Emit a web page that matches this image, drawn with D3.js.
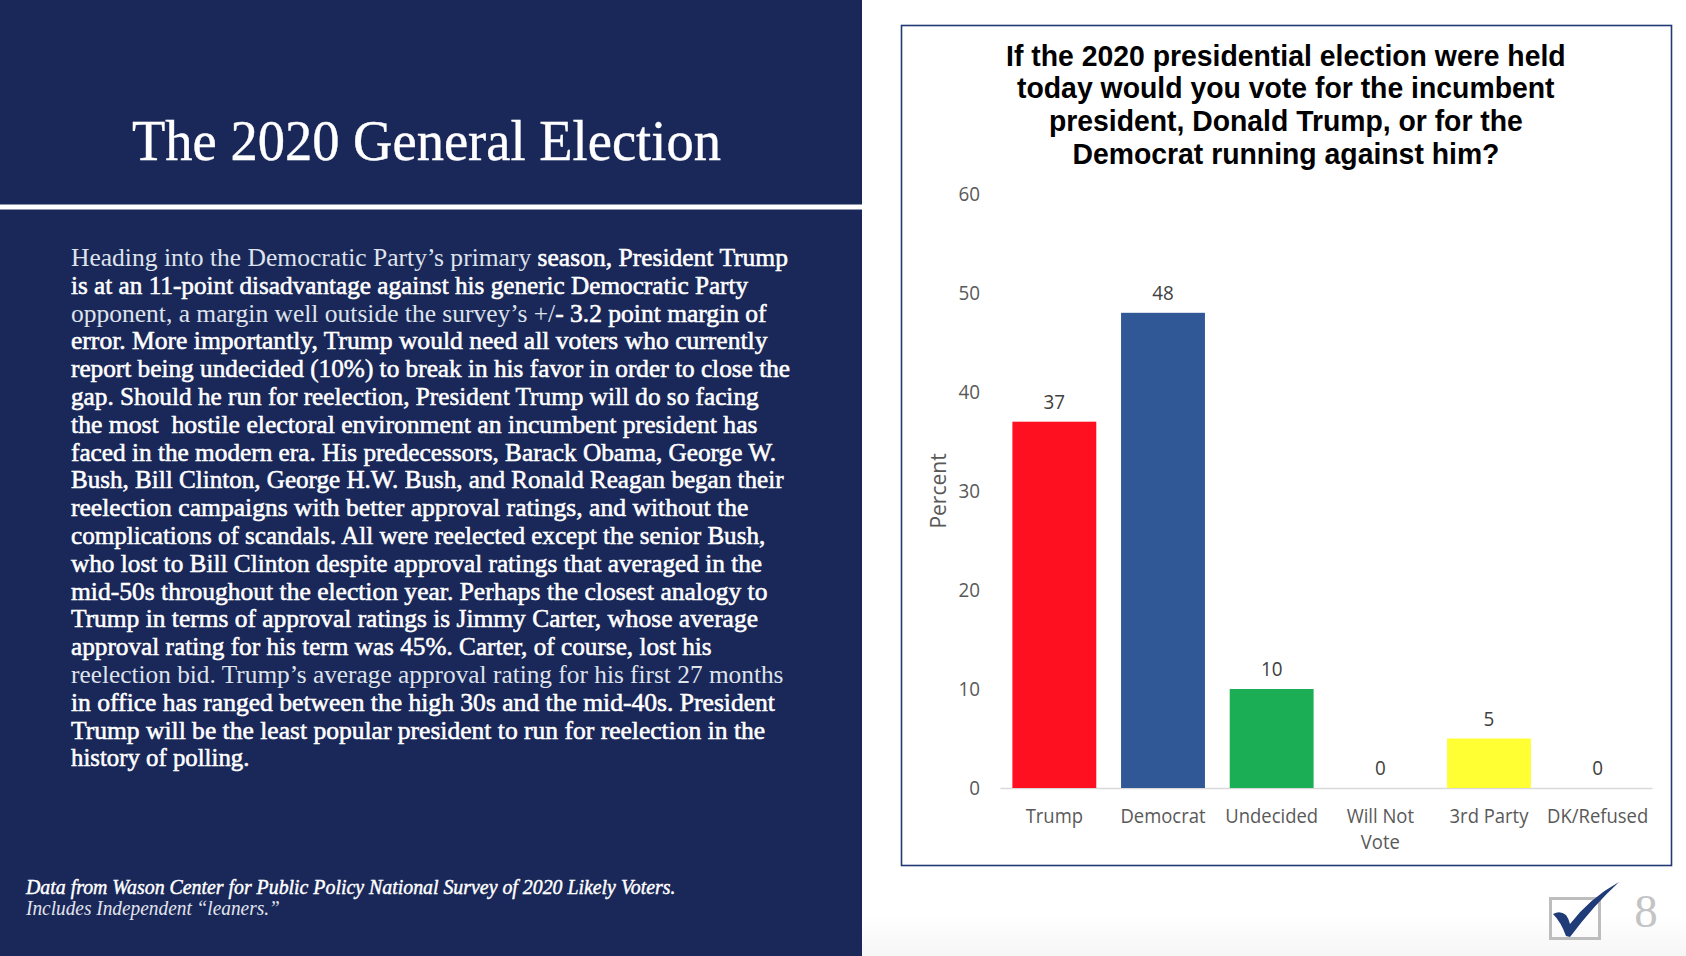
<!DOCTYPE html>
<html>
<head>
<meta charset="utf-8">
<script src="https://cdn.jsdelivr.net/npm/d3@7"></script>
<style>
    html, body { margin: 0; padding: 0; background: #fff; overflow: hidden; }
    svg { display: block; }
</style>
</head>
<body>
<div id="chart"></div>
<script>
// chart values
const categories = ["Trump", "Democrat", "Undecided", "Will Not Vote", "3rd Party", "DK/Refused"];
const values = [37, 48, 10, 0, 5, 0];
const barColors = ["#ff1020", "#305796", "#1bae55", "#ffffff", "#ffff33", "#ffffff"];
const yTicks = [0, 10, 20, 30, 40, 50, 60];

const chartTitle = [
    "If the 2020 presidential election were held",
    "today would you vote for the incumbent",
    "president, Donald Trump, or for the",
    "Democrat running against him?"
];
const chartTitleWidths = [560, 538, 474, 427];

// left panel copy: [text, bold?] runs per line
const bodyLines = [
    [["Heading into the Democratic Party’s primary ", 0], ["season, President Trump", 1]],
    [["is at an 11-point disadvantage against his generic Democratic Party", 1]],
    [["opponent, a margin well outside the survey’s +/", 0], ["- 3.2 point margin of", 1]],
    [["error. More importantly, Trump would need all voters who currently", 1]],
    [["report being undecided (10%) to break in his favor in order to close the", 1]],
    [["gap. Should he run for reelection, President Trump will do so facing", 1]],
    [["the most  hostile electoral environment an incumbent president has", 1]],
    [["faced in the modern era. His predecessors, Barack Obama, George W.", 1]],
    [["Bush, Bill Clinton, George H.W. Bush, and Ronald Reagan began their", 1]],
    [["reelection campaigns with better approval ratings, and without the", 1]],
    [["complications of scandals. All were reelected except the senior Bush,", 1]],
    [["who lost to Bill Clinton despite approval ratings that averaged in the", 1]],
    [["mid-50s throughout the election year. Perhaps the closest analogy to", 1]],
    [["Trump in terms of approval ratings is Jimmy Carter, whose average", 1]],
    [["approval rating for his term was 45%. Carter, of course, lost his", 1]],
    [["reelection bid. Trump’s average approval rating for his first 27 months", 0]],
    [["in office has ranged between the high 30s and the mid-40s. President", 1]],
    [["Trump will be the least popular president to run for reelection in the", 1]],
    [["history of polling.", 1]]
];
const bodyLineEnds = [733, 696, 713, 714, 735, 706, 705, 722, 729, 696, 712, 709, 714, 705, 662, 729, 721, 712, 232];

const width = 1686,
      height = 956,
      margin = ({ top: 194, right: 34, bottom: 168, left: 1000 });

const navy = "#1a2859";

let svg = d3.select("#chart")
    .append("svg")
    .attr("width", width)
    .attr("height", height)
    .attr("viewBox", [0, 0, width, height]);

// faint grey fade along the bottom of the slide
let fade = svg.append("defs").append("linearGradient")
    .attr("id", "fade")
    .attr("x1", 0).attr("x2", 0).attr("y1", 0).attr("y2", 1);
fade.append("stop").attr("offset", "0%").attr("stop-color", "#ffffff");
fade.append("stop").attr("offset", "100%").attr("stop-color", "#f6f6f6");

svg.append("rect").attr("x", 862).attr("y", 915).attr("width", 824).attr("height", 41).attr("fill", "url(#fade)");

// squeeze or stretch a text line so it takes the measured width
function fit(sel, w) {
    sel.each(function() {
        let t = d3.select(this),
            len = this.getComputedTextLength(),
            anchor = t.attr("text-anchor"),
            x = +t.attr("x"),
            y = +t.attr("y"),
            k = w / len;
        let x0 = anchor === "middle" ? x - len * k / 2 : x;
        let xt = anchor === "middle" ? x - len / 2 : x;
        t.attr("text-anchor", "start")
            .attr("x", xt)
            .attr("transform", `translate(${x0 - xt * k},0) scale(${k},1)`)
            .attr("y", y);
    });
}

// ---- left panel
svg.append("rect")
    .attr("width", 862)
    .attr("height", height)
    .attr("fill", navy);

svg.append("rect")
    .attr("y", 204.5)
    .attr("width", 862)
    .attr("height", 5)
    .attr("fill", "#ffffff");

svg.append("text")
    .attr("x", 132)
    .attr("y", 160)
    .attr("font-family", "Liberation Serif")
    .attr("font-size", 56)
    .attr("fill", "#ffffff")
    .attr("stroke", "#ffffff")
    .attr("stroke-width", 0.4)
    .text("The 2020 General Election")
    .call(fit, 589);

bodyLines.forEach((runs, i) => {
    let line = svg.append("text")
        .attr("x", 71)
        .attr("y", 266 + i * 27.8)
        .attr("font-family", "Liberation Serif")
        .attr("font-size", 25)
        .style("white-space", "pre");

    runs.forEach(r => {
        line.append("tspan")
            .text(r[0])
            .attr("fill", r[1] ? "#ffffff" : "#dfe3ec")
            .attr("stroke", r[1] ? "#ffffff" : "none")
            .attr("stroke-width", 0.55);
    });
    line.call(fit, bodyLineEnds[i] * 1.0753 - 71);
});

svg.append("text")
    .attr("x", 26)
    .attr("y", 894)
    .attr("font-family", "Liberation Serif")
    .attr("font-style", "italic")
    .attr("font-size", 21)
    .attr("fill", "#ffffff")
    .attr("stroke", "#ffffff")
    .attr("stroke-width", 0.45)
    .text("Data from Wason Center for Public Policy National Survey of 2020 Likely Voters.")
    .call(fit, 650);

svg.append("text")
    .attr("x", 26)
    .attr("y", 915)
    .attr("font-family", "Liberation Serif")
    .attr("font-style", "italic")
    .attr("font-size", 20)
    .attr("fill", "#e2e5ee")
    .text("Includes Independent “leaners.”")
    .call(fit, 254);

// ---- chart frame
svg.append("rect")
    .attr("x", 901.5)
    .attr("y", 25.5)
    .attr("width", 770)
    .attr("height", 840)
    .attr("fill", "#ffffff")
    .attr("stroke", "#1f3a75")
    .attr("stroke-width", 1.6);

chartTitle.forEach((t, i) => {
    svg.append("text")
        .attr("x", 1286)
        .attr("y", [66, 98, 131, 164][i])
        .attr("text-anchor", "middle")
        .attr("font-family", "Liberation Sans")
        .attr("font-weight", "bold")
        .attr("font-size", 30)
        .attr("fill", "#000000")
        .text(t)
        .call(fit, chartTitleWidths[i]);
});

let x = d3.scaleBand()
    .domain(categories)
    .range([margin.left, width - margin.right])
    .paddingInner(0.228)
    .paddingOuter(0.114);

let y = d3.scaleLinear()
    .domain([0, 60])
    .range([height - margin.bottom, margin.top]);

const labelFont = "Open Sans";

let yAxis = svg.append("g")
    .attr("transform", `translate(${margin.left - 20},0)`)
    .call(d3.axisLeft(y).tickValues(yTicks).tickSize(0).tickPadding(0));
yAxis.select(".domain").remove();
yAxis.selectAll("text")
    .attr("font-family", labelFont)
    .attr("font-size", 20.5)
    .attr("transform", "scale(0.92,1)")
    .attr("fill", "#595959");

let xAxis = svg.append("g")
    .attr("transform", `translate(0,${height - margin.bottom})`)
    .call(d3.axisBottom(x).tickSize(0).tickPadding(0));
xAxis.select(".domain")
    .attr("stroke", "#d9d9d9")
    .attr("stroke-width", 1.5);
xAxis.selectAll("text")
    .attr("font-family", labelFont)
    .attr("font-size", 20.5)
    .attr("transform", "scale(0.9,1)")
    .attr("fill", "#595959")
    .attr("y", 0)
    .attr("dy", 0)
    .each(function(d) {
        // wrap the one long label onto two lines
        let words = d === "Will Not Vote" ? ["Will Not", "Vote"] : [d];
        let t = d3.select(this).text(null);
        words.forEach((w, i) => {
            t.append("tspan")
                .attr("x", 0)
                .attr("y", 35 + i * 26)
                .text(w);
        });
    });

let bar = svg.selectAll(".bar")
    .data(categories.map((c, i) => ({ category: c, value: values[i], color: barColors[i] })))
    .join("g")
    .attr("class", "bar");

bar.append("rect")
    .attr("fill", d => d.color)
    .attr("x", d => x(d.category))
    .attr("y", d => y(d.value))
    .attr("width", x.bandwidth())
    .attr("height", d => y(0) - y(d.value));

bar.append("text")
    .text(d => d.value)
    .attr("transform", d => `translate(${x(d.category) + x.bandwidth() / 2},${y(d.value) - 13}) scale(0.92,1)`)
    .attr("text-anchor", "middle")
    .attr("font-family", labelFont)
    .attr("font-size", 20.5)
    .attr("fill", "#404040");

svg.append("text")
    .attr("text-anchor", "middle")
    .attr("transform", "translate(946,491) rotate(-90)")
    .attr("font-family", labelFont)
    .attr("font-size", 21)
    .attr("fill", "#595959")
    .text("Percent");

// ---- checkbox logo and page number
let logo = svg.append("g");
logo.append("rect")
    .attr("x", 1550.5)
    .attr("y", 898.5)
    .attr("width", 49)
    .attr("height", 40)
    .attr("fill", "none")
    .attr("stroke", "#bdbdbd")
    .attr("stroke-width", 3);
logo.append("path")
    .attr("d", "M1553 914 Q1560 910 1566 915 Q1569 919 1570 924 Q1590 898 1619 882 Q1594 905 1570 937 L1566 936 Q1561 922 1553 914Z")
    .attr("fill", "#1f3c78");

svg.append("text")
    .attr("x", 1646)
    .attr("y", 927)
    .attr("text-anchor", "middle")
    .attr("font-family", "Liberation Serif")
    .attr("font-size", 47)
    .attr("fill", "#c4c4c4")
    .text("8");
</script>
</body>
</html>
